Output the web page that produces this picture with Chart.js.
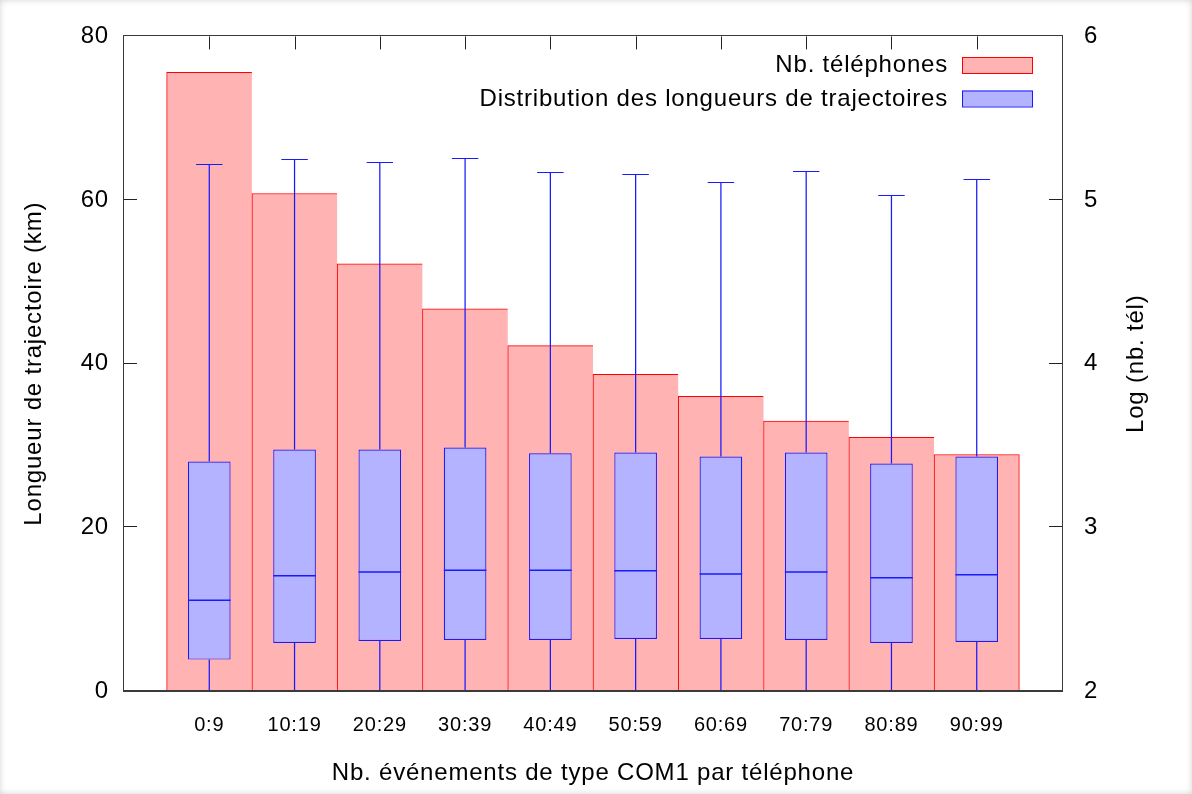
<!DOCTYPE html>
<html><head><meta charset="utf-8">
<script src="https://cdn.jsdelivr.net/npm/chart.js@4.4.1/dist/chart.umd.min.js"></script>
<style>
html,body{margin:0;padding:0;background:#fff;}
#wrap{position:relative;width:1192px;height:794px;overflow:hidden;}
#shade{position:absolute;left:0;top:0;width:1192px;height:794px;box-shadow:inset 0 0 6px rgba(0,0,0,0.18);pointer-events:none;}
</style></head><body>
<div id="wrap"><canvas id="c" width="1192" height="794"></canvas><div id="shade"></div></div>
<script>
// ---- data ----
const categories = ['0:9','10:19','20:29','30:39','40:49','50:59','60:69','70:79','80:89','90:99'];
const nbTelLog   = [5.78, 5.04, 4.61, 4.335, 4.11, 3.935, 3.80, 3.65, 3.55, 3.445];
const whiskerMin = [0, 0, 0, 0, 0, 0, 0, 0, 0, 0];
const q1         = [3.84, 5.87, 6.12, 6.24, 6.24, 6.36, 6.36, 6.24, 5.87, 6.0];
const median     = [11.1, 14.1, 14.55, 14.75, 14.75, 14.7, 14.3, 14.55, 13.85, 14.2];
const q3         = [28.05, 29.5, 29.5, 29.75, 29.05, 29.15, 28.65, 29.15, 27.8, 28.65];
const whiskerMax = [64.4, 65.05, 64.65, 65.15, 63.45, 63.2, 62.15, 63.55, 60.6, 62.6];
const seriesLabels = ['Nb. téléphones', 'Distribution des longueurs de trajectoires'];
const xTitle  = 'Nb. événements de type COM1 par téléphone';
const yTitle  = 'Longueur de trajectoire (km)';
const y2Title = 'Log (nb. tél)';

const FONT = "'Liberation Sans', Arial, sans-serif";

const spacingPlugin = { id:'spacing', beforeDraw(chart){ chart.ctx.letterSpacing = '0.8px'; } };

const ticksPlugin = { id:'inTicks', beforeDatasetsDraw(chart){
  const {ctx, chartArea:a, scales:{x,y,y2}} = chart;
  ctx.save(); ctx.fillStyle='#222';
  y.ticks.forEach(t=>{const p=Math.round(y.getPixelForValue(t.value))-1; ctx.fillRect(a.left,p,13,1);});
  y2.ticks.forEach(t=>{const p=Math.round(y2.getPixelForValue(t.value))-1; ctx.fillRect(a.right-13,p,13,1);});
  categories.forEach((c,i)=>{const p=Math.round(x.getPixelForValue(i));
    ctx.fillRect(p,a.top,1,13); ctx.fillRect(p,a.bottom-13,1,13);});
  ctx.restore();
}};

const boxPlugin = { id:'whiskers', afterDatasetsDraw(chart){
  const meta = chart.getDatasetMeta(1); const y = chart.scales.y; const ctx = chart.ctx;
  ctx.save(); ctx.strokeStyle='#1a1aff';
  meta.data.forEach((el,i)=>{
    const cx = el.x, w = el.width, cap = w*0.62;
    const py = v => y.getPixelForValue(v);
    const pc = v => Math.round(y.getPixelForValue(v))+0.5;
    ctx.lineWidth=1.25; ctx.beginPath();
    ctx.moveTo(cx,py(q3[i])); ctx.lineTo(cx,pc(whiskerMax[i]));
    ctx.moveTo(cx,py(q1[i])); ctx.lineTo(cx,pc(whiskerMin[i]));
    ctx.stroke();
    ctx.lineWidth=1.2; ctx.beginPath();
    ctx.moveTo(cx-cap/2,pc(whiskerMax[i])); ctx.lineTo(cx+cap/2,pc(whiskerMax[i]));
    ctx.moveTo(cx-cap/2,pc(whiskerMin[i])); ctx.lineTo(cx+cap/2,pc(whiskerMin[i]));
    ctx.stroke();
    ctx.lineWidth=1.5; ctx.beginPath();
    ctx.moveTo(el.x-w/2,py(median[i])); ctx.lineTo(el.x+w/2,py(median[i])); ctx.stroke();
  });
  ctx.restore();
}};

const framePlugin = { id:'frame', afterDraw(chart){
  const {ctx, chartArea:a} = chart;
  const L = Math.round(a.left), R = Math.round(a.right), T = Math.round(a.top), B = Math.round(a.bottom);
  ctx.save();
  ctx.fillStyle='#3a3a3a';
  ctx.fillRect(L-1, T-1, R-L+2, 1);
  ctx.fillRect(L-1, B-1, R-L+2, 2);
  ctx.fillRect(L-1, T-1, 1, B-T+2);
  ctx.fillRect(R, T-1, 1, B-T+2);
  ctx.restore();
  // right axis title (reads bottom to top)
  ctx.save();
  ctx.fillStyle='#000'; ctx.font = `24px ${FONT}`;
  ctx.translate(1136, (a.top+a.bottom)/2); ctx.rotate(-Math.PI/2);
  ctx.textAlign='center'; ctx.textBaseline='middle';
  ctx.fillText(y2Title, 0, 0);
  ctx.restore();
  // legend
  ctx.save();
  ctx.font = `24px ${FONT}`; ctx.textAlign='right'; ctx.textBaseline='alphabetic';
  const baselines=[72,106], swTop=[57,90.5];
  chart.data.datasets.forEach((ds,k)=>{
    ctx.fillStyle='#000'; ctx.fillText(ds.label, 948, baselines[k]);
    ctx.fillStyle=ds.backgroundColor; ctx.fillRect(962, swTop[k], 71, 16);
    ctx.strokeStyle=ds.borderColor; ctx.lineWidth=1; ctx.strokeRect(962.5, swTop[k]+0.5, 70, 16);
  });
  ctx.restore();
}};

new Chart(document.getElementById('c'), {
  type:'bar',
  data:{
    datasets:[
      { label: seriesLabels[0], yAxisID:'y2', order:2, grouped:false,
        data: categories.map((c,i)=>({x:i, y:nbTelLog[i]})),
        backgroundColor:'#ffb3b3', borderColor:'#ff0000',
        borderWidth: ctx => ({top:1, left:1, bottom:0, right: ctx.dataIndex===categories.length-1 ? 1 : 0}),
        borderSkipped:false, barPercentage:1, categoryPercentage:1 },
      { label: seriesLabels[1], yAxisID:'y', order:1, grouped:false,
        data: categories.map((c,i)=>({x:i, y:[q1[i], q3[i]]})),
        backgroundColor:'#b3b3ff', borderColor:'#1a1aff', borderWidth:1.2,
        borderSkipped:false, barPercentage:0.5, categoryPercentage:1 }
    ]
  },
  options:{
    responsive:false, animation:false, devicePixelRatio:1,
    layout:{padding:{top:35,left:0,right:0,bottom:0}},
    plugins:{legend:{display:false}, tooltip:{enabled:false}},
    scales:{
      x:{ type:'linear', min:-1, max:10, offset:false, afterFit(s){ s.height=103; },
          grid:{display:false, drawTicks:false, offset:false}, border:{display:false},
          ticks:{stepSize:1, autoSkip:false, maxRotation:0, padding:22, color:'#000',
                 font:{family:FONT,size:20}, callback:(v)=> (categories[v] ?? '')},
          title:{display:true, text:xTitle, color:'#000', font:{family:FONT,size:24}, padding:{top:0,bottom:6}} },
      y:{ position:'left', min:0, max:80, afterFit(s){ s.width=124; },
          grid:{display:false, drawTicks:false}, border:{display:false},
          ticks:{stepSize:20, padding:15, color:'#000', font:{family:FONT,size:24}},
          title:{display:true, text:yTitle, color:'#000', font:{family:FONT,size:24}, padding:{top:20,bottom:0}} },
      y2:{ position:'right', min:2, max:6, afterFit(s){ s.width=130; },
          grid:{display:false, drawTicks:false}, border:{display:false},
          ticks:{stepSize:1, padding:22, color:'#000', font:{family:FONT,size:24}},
          title:{display:false, text:y2Title} }
    }
  },
  plugins:[spacingPlugin, ticksPlugin, boxPlugin, framePlugin]
});
</script>
</body></html>
